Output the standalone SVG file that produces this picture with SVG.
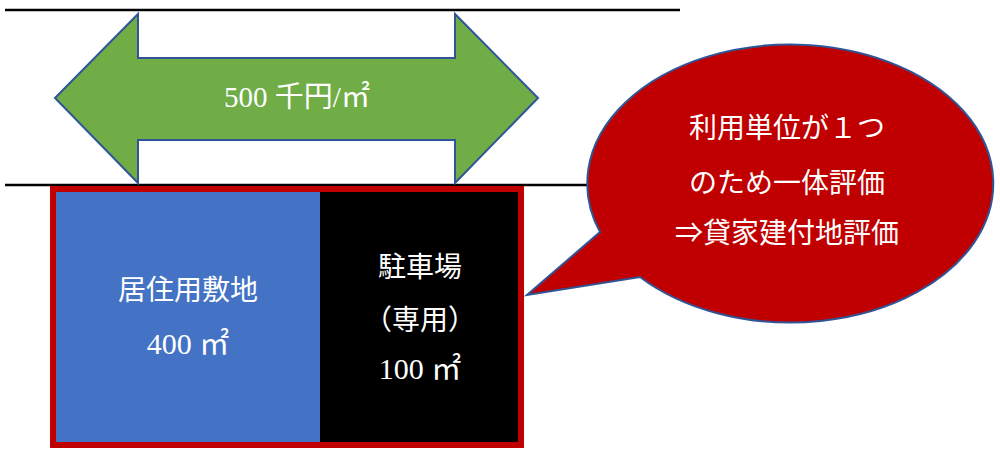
<svg xmlns="http://www.w3.org/2000/svg" width="1000" height="458" viewBox="0 0 1000 458">
<style>
.t{font-family:"Liberation Serif","Noto Sans CJK JP",serif;fill:#fff;text-anchor:middle;dominant-baseline:central}
.rule{stroke:#000;stroke-width:2.5}
</style>
<rect width="1000" height="458" fill="#fff"/>
<g id="connectors">
<line class="rule" x1="5" y1="10" x2="680" y2="10"/>
<line class="rule" x1="5" y1="185" x2="680" y2="185"/>
</g>
<g id="arrow">
<polygon points="55,98 138,14 138,58 455,58 455,14 538,98 455,183 455,140 138,140 138,183" fill="#70AD47" stroke="#2F5597" stroke-width="2" stroke-linejoin="miter"/>
<text class="t" x="297" y="97" font-size="29">500 千円/㎡</text>
</g>
<g id="site">
<rect x="56" y="192" width="264" height="252" fill="#4472C4"/>
<rect x="320" y="192" width="199" height="252" fill="#000"/>
<rect x="53" y="189" width="468" height="256" fill="none" stroke="#C00000" stroke-width="6"/>
</g>
<g id="residential">
<text class="t" x="188" y="290" font-size="28">居住用敷地</text>
<text class="t" x="188" y="343" font-size="30">400 ㎡</text>
</g>
<g id="parking">
<text class="t" x="420" y="267" font-size="28">駐車場</text>
<text class="t" x="420" y="320" font-size="28">（専用）</text>
<text class="t" x="420" y="368" font-size="30">100 ㎡</text>
</g>
<g id="callout">
<path d="M600,232 A203,139 0 1 1 640,277 L527,295 Z" fill="#C00000" stroke="#2F5597" stroke-width="2" stroke-linejoin="miter"/>
<text class="t" x="787" y="128" font-size="28">利用単位が１つ</text>
<text class="t" x="787" y="183" font-size="28">のため一体評価</text>
<text class="t" x="787" y="233" font-size="28">⇒貸家建付地評価</text>
</g>
</svg>
